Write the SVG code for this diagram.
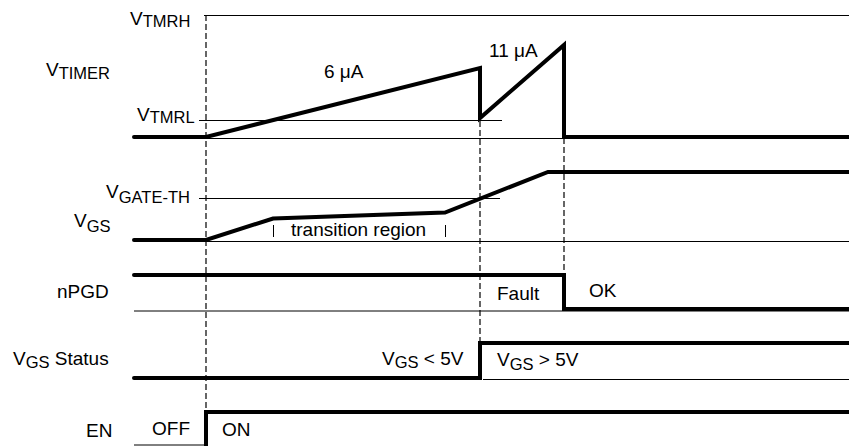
<svg xmlns="http://www.w3.org/2000/svg" width="849" height="446" viewBox="0 0 849 446">
<style>
.bg{fill:#ffffff}
.thin{stroke:#000;stroke-width:1;fill:none}
.wave{stroke:#000;stroke-width:4;fill:none;stroke-linejoin:miter;stroke-linecap:round}
.dash{stroke:#000;stroke-width:1.2;fill:none;stroke-dasharray:6,3}
text{font-family:"Liberation Sans",Arial,sans-serif;font-size:19px;fill:#000}
.sub{font-size:16.5px}
</style>
<rect class="bg" x="0" y="0" width="849" height="446"/>
<g id="grid">
<line class="thin" x1="204" y1="15.5" x2="849" y2="15.5"/>
<line class="thin" x1="199" y1="120.5" x2="502" y2="120.5"/>
<line class="thin" x1="206" y1="138.5" x2="849" y2="138.5"/>
<line class="thin" x1="199" y1="198.5" x2="500" y2="198.5"/>
<line class="thin" x1="206" y1="241.5" x2="849" y2="241.5"/>
<line class="thin" x1="134" y1="311" x2="849" y2="311"/>
<line class="thin" x1="483" y1="379.5" x2="849" y2="379.5"/>
<line class="thin" x1="134" y1="445" x2="206" y2="445"/>
</g>
<g id="markers">
<line class="dash" x1="206" y1="15" x2="206" y2="412"/>
<line class="dash" x1="480" y1="121" x2="480" y2="343"/>
<line class="dash" x1="564" y1="138" x2="564" y2="275"/>
</g>
<g id="waveforms">
<polyline id="vtimer" class="wave" points="134,137 206,137 480,68 480,118 564,45 564,137 849,137"/>
<polyline id="vgs" class="wave" points="134,240 206,240 273,218.5 445,212.5 548,172 849,172"/>
<polyline id="npgd" class="wave" points="134,275 564,275 564,309 849,309"/>
<polyline id="vgsstatus" class="wave" points="134,378 480,378 480,343 849,343"/>
<polyline id="en" class="wave" points="206,446 206,412 849,412"/>
<line class="thin" x1="273.5" y1="225" x2="273.5" y2="237"/>
<line class="thin" x1="445.5" y1="225" x2="445.5" y2="237"/>
</g>
<g id="labels">
<text x="130" y="25">V<tspan class="sub" dy="2">TMRH</tspan></text>
<text x="46" y="76">V<tspan class="sub" dy="3">TIMER</tspan></text>
<text x="137" y="121">V<tspan class="sub" dy="2">TMRL</tspan></text>
<text x="106" y="198">V<tspan class="sub" dy="5">GATE-TH</tspan></text>
<text x="74" y="227">V<tspan class="sub" dy="5">GS</tspan></text>
<text x="324" y="78">6 μA</text>
<text x="489" y="57">11 μA</text>
<text x="291" y="236">transition region</text>
<text x="57" y="298">nPGD</text>
<text x="497" y="300">Fault</text>
<text x="589" y="297">OK</text>
<text x="13" y="365">V<tspan class="sub" dy="3">GS</tspan><tspan dy="-3"> Status</tspan></text>
<text x="382" y="365">V<tspan class="sub" dy="3">GS</tspan><tspan dy="-3"> &lt; 5V</tspan></text>
<text x="497" y="366">V<tspan class="sub" dy="4">GS</tspan><tspan dy="-4"> &gt; 5V</tspan></text>
<text x="86" y="437">EN</text>
<text x="152" y="435">OFF</text>
<text x="222" y="436">ON</text>
</g>
</svg>
